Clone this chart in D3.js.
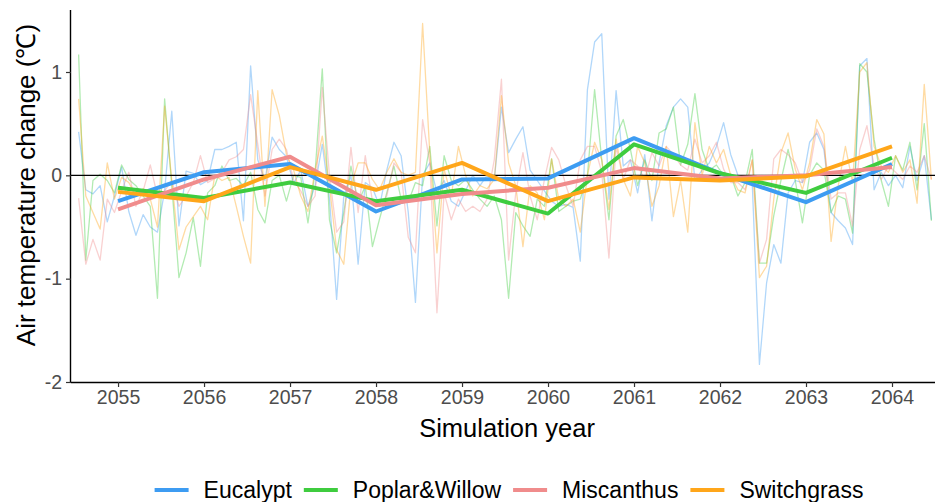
<!DOCTYPE html>
<html>
<head>
<meta charset="utf-8">
<script src="https://cdn.jsdelivr.net/npm/d3@7"></script>
<style>
  html, body { margin: 0; padding: 0; background: #fff; }
  svg { display: block; font-family: "Liberation Sans", Arial, sans-serif; }
</style>
</head>
<body>
<svg id="chart" width="935" height="502"></svg>
<script>
// Simulation years (annual means are plotted at these positions)
const years = [2055, 2056, 2057, 2058, 2059, 2060, 2061, 2062, 2063, 2064];
const yTicks = [-2, -1, 0, 1];
const seriesNames = ["Eucalypt", "Poplar&Willow", "Miscanthus", "Switchgrass"];
const seriesColors = ["#3d9cf2", "#3fcc3f", "#f08c8c", "#ffa61a"];

// Annual mean air temperature change (°C)
const eucalyptAnnual    = [-0.25, 0.03, 0.11, -0.35, -0.04, -0.03, 0.36, 0.02, -0.26, 0.11];
const poplarAnnual      = [-0.12, -0.22, -0.07, -0.25, -0.14, -0.37, 0.30, 0.02, -0.17, 0.17];
const miscanthusAnnual  = [-0.33, -0.04, 0.18, -0.29, -0.18, -0.12, 0.07, -0.03, 0.00, 0.08];
const switchgrassAnnual = [-0.16, -0.25, 0.08, -0.14, 0.12, -0.25, -0.02, -0.05, -0.01, 0.28];

// Monthly air temperature change (°C), January 2055 .. December 2064
const eucalyptMonthly = [
  0.42, -0.14, -0.18, -0.10, -0.45, -0.20, 0.08, -0.35, -0.58, -0.38, -0.50, -0.55,
  -0.15, 0.62, -0.49, 0.04, 0.02, -0.09, -0.05, 0.25, 0.25, 0.28, 0.32, -0.44,
  1.06, 0.15, -0.05, 0.37, 0.25, 0.18, -0.08, 0.05, -0.30, -0.10, 0.30, -0.22,
  -1.20, -0.20, 0.00, -0.86, -0.07, -0.12, -0.30, 0.05, 0.32, 0.19, -0.36, -1.23,
  0.00, 0.12, -0.17, -0.05, -0.25, -0.30, -0.15, 0.00, -0.10, 0.00, -0.05, 0.66,
  0.22, 0.35, 0.47, 0.05, -0.05, -0.15, -0.25, -0.30, -0.28, -0.31, -0.83, 0.83,
  1.29, 1.37, -0.23, 0.82, 0.09, 0.15, -0.17, 0.20, -0.44, 0.12, 0.48, 0.66,
  0.74, 0.66, -0.05, 0.05, 0.12, 0.28, 0.51, 0.20, 0.00, -0.05, -0.08, -1.83,
  -1.04, -0.67, -0.85, -0.17, -0.05, -0.07, 0.32, 0.41, 0.25, -0.36, -0.44, -0.51,
  -0.67, 1.06, 1.13, -0.14, 0.03, -0.10, 0.00, -0.12, 0.28, -0.05, 0.19, -0.43
];
const poplarMonthly = [
  1.17, -0.82, -0.05, 0.01, -0.05, -0.17, 0.10, -0.04, -0.10, -0.20, -0.30, -1.19,
  0.74, -0.10, -0.99, -0.75, -0.41, -0.88, -0.17, -0.10, 0.09, -0.05, -0.03, -0.10,
  0.03, -0.33, -0.46, -0.05, 0.00, -0.25, 0.00, -0.02, -0.46, 0.03, 1.03, -0.43,
  -0.75, -0.36, 0.09, -0.27, -0.10, -0.69, -0.42, -0.17, 0.09, -0.23, -0.26, -0.07,
  -0.10, 0.28, -0.49, 0.19, -0.05, -0.10, -0.04, -0.14, -0.23, -0.30, -0.20, -0.43,
  -1.19, -0.36, -0.49, -0.59, -0.23, -0.30, 0.16, -0.35, -0.30, -0.25, -0.23, 0.00,
  0.83, 0.15, -0.43, 0.38, 0.54, 0.25, -0.10, 0.15, -0.05, 0.41, 0.45, 0.66,
  0.10, 0.30, 0.79, 0.25, 0.05, 0.10, 0.00, 0.00, -0.20, -0.07, 0.25, -0.85,
  -0.85, -0.39, -0.05, 0.25, -0.05, -0.46, 0.00, 0.12, 0.05, -0.36, -0.20, -0.23,
  -0.56, 1.08, 1.00, 0.35, -0.05, -0.30, 0.19, 0.05, 0.32, -0.14, 0.50, -0.44
];
const miscanthusMonthly = [
  -0.22, -0.86, -0.62, -0.82, -0.23, -0.36, -0.15, 0.03, -0.30, -0.15, 0.10, -0.20,
  -0.15, -0.05, -0.30, -0.20, -0.07, 0.19, -0.07, -0.03, 0.03, 0.15, 0.18, 0.25,
  0.78, 0.30, -0.20, 0.25, 0.35, 0.25, -0.05, -0.15, -0.30, -0.20, 0.85, 0.00,
  -0.55, -0.45, 0.27, -0.36, 0.19, -0.25, -0.30, -0.20, 0.12, 0.03, -0.60, -0.75,
  0.54, 0.12, -1.33, -0.17, -0.43, -0.23, -0.35, -0.30, -0.35, -0.23, 0.15, 0.93,
  -0.82, -0.17, 0.22, -0.20, -0.43, -0.04, 0.27, 0.15, -0.10, -0.30, 0.15, 0.28,
  0.28, 0.03, -0.80, 0.28, -0.04, 0.15, 0.09, -0.04, 0.22, 0.09, 0.28, 0.20,
  0.10, 0.05, 0.35, 0.12, 0.19, 0.32, 0.06, -0.07, -0.07, -0.14, 0.15, -0.85,
  -0.62, 0.16, 0.25, 0.20, 0.12, -0.07, 0.05, 0.45, 0.28, -0.23, -0.17, -0.17,
  -0.49, 0.25, 0.48, 0.09, -0.04, 0.09, 0.03, -0.04, 0.09, 0.03, 0.19, -0.04
];
const switchgrassMonthly = [
  0.74, -0.20, -0.36, -0.52, 0.12, -0.23, -0.02, -0.07, -0.20, -0.13, -0.23, -0.50,
  0.67, -0.05, -0.72, -0.50, -0.40, -0.30, -0.43, 0.00, -0.05, -0.02, -0.30, -0.59,
  -0.85, 0.82, -0.30, 0.83, 0.58, 0.20, 0.05, -0.20, -0.35, 0.05, 0.38, -0.10,
  -0.72, -0.86, -0.10, 0.12, 0.12, -0.04, -0.14, 0.03, 0.16, 0.03, 0.00, 0.03,
  1.47, 0.22, -0.75, 0.06, -0.20, 0.28, 0.00, -0.20, -0.10, -0.13, -0.04, 0.77,
  0.12, -0.10, -0.69, -0.10, -0.17, -0.43, 0.16, -0.23, -0.30, -0.23, -0.55, 0.00,
  0.32, 0.15, -0.33, 0.35, -0.04, -0.20, 0.28, 0.12, -0.30, -0.10, 0.28, -0.40,
  -0.05, -0.55, 0.51, 0.00, 0.28, 0.12, 0.25, 0.00, -0.14, -0.17, 0.15, -0.99,
  -0.88, -0.23, 0.22, 0.41, 0.06, -0.14, 0.12, 0.54, 0.40, -0.64, -0.10, 0.28,
  -0.07, 1.00, 1.09, 0.28, 0.09, 0.03, 0.19, 0.03, 0.15, -0.27, 0.88, -0.04
];

const annualSeries = [eucalyptAnnual, poplarAnnual, miscanthusAnnual, switchgrassAnnual];
const monthlySeries = [eucalyptMonthly, poplarMonthly, miscanthusMonthly, switchgrassMonthly];

const plot = { left: 71, right: 935, top: 10, bottom: 382 };

const svg = d3.select("#chart");

const x = d3.scaleLinear().domain([2054.453, 2064.5]).range([plot.left, plot.right]);
const y = d3.scaleLinear().domain([-2, 1.6]).range([plot.bottom, plot.top]);

// decimal time of each monthly value: mid-month of its year, centred on the year
const monthTime = (i) => years[0] - 0.5 + (i + 0.5) / 12;

svg.append("defs").append("clipPath").attr("id", "panel")
  .append("rect")
  .attr("x", plot.left).attr("y", plot.top)
  .attr("width", plot.right - plot.left).attr("height", plot.bottom - plot.top);

const panel = svg.append("g").attr("clip-path", "url(#panel)");

const monthLine = d3.line().x((d, i) => x(monthTime(i))).y(d => y(d));
const yearLine = d3.line().x((d, i) => x(years[i])).y(d => y(d));

// thin monthly lines
monthlySeries.forEach((vals, k) => {
  panel.append("path")
    .datum(vals)
    .attr("d", monthLine)
    .attr("fill", "none")
    .attr("stroke", seriesColors[k])
    .attr("stroke-opacity", 0.4)
    .attr("stroke-width", 1.3)
    .attr("stroke-linejoin", "round");
});

// zero reference line
panel.append("line")
  .attr("x1", plot.left).attr("x2", plot.right)
  .attr("y1", y(0)).attr("y2", y(0))
  .attr("stroke", "#000").attr("stroke-width", 1.3);

// thick annual mean lines
annualSeries.forEach((vals, k) => {
  panel.append("path")
    .datum(vals)
    .attr("d", yearLine)
    .attr("fill", "none")
    .attr("stroke", seriesColors[k])
    .attr("stroke-width", 4)
    .attr("stroke-linejoin", "round");
});

// axes
const xAxis = d3.axisBottom(x).tickValues(years).tickFormat(d3.format("d")).tickSize(5).tickPadding(3);
const yAxis = d3.axisLeft(y).tickValues(yTicks).tickFormat(d => d).tickSize(5).tickPadding(4);

const gx = svg.append("g").attr("transform", `translate(0,${plot.bottom})`).call(xAxis);
const gy = svg.append("g").attr("transform", `translate(${plot.left},0)`).call(yAxis);

[gx, gy].forEach(g => {
  g.select(".domain").attr("stroke", "#000").attr("stroke-width", 1.4);
  g.selectAll(".tick line").attr("stroke", "#333").attr("stroke-width", 1.2);
  g.selectAll(".tick text")
    .attr("fill", "#4d4d4d")
    .style("font-size", "19.5px")
    .style("font-family", "'Liberation Sans', Arial, sans-serif");
});
gx.select(".domain").attr("d", `M${plot.left},0.5H${plot.right}`);
gy.select(".domain").attr("d", `M-0.5,${plot.top}V${plot.bottom}`);

// axis titles
svg.append("text")
  .attr("x", 507).attr("y", 437)
  .attr("text-anchor", "middle")
  .style("font-size", "25.5px")
  .attr("fill", "#000")
  .text("Simulation year");

svg.append("text")
  .attr("transform", "translate(35,185) rotate(-90)")
  .attr("text-anchor", "middle")
  .style("font-size", "26px")
  .attr("fill", "#000")
  .text("Air temperature change (℃)");

// legend
const legend = svg.append("g");
const keyW = 34, keyGap = 15, itemGap = 12, legendY = 490;
let cursor = 0;
seriesNames.forEach((name, k) => {
  const g = legend.append("g");
  g.append("line")
    .attr("x1", 0).attr("x2", keyW)
    .attr("y1", 0).attr("y2", 0)
    .attr("stroke", seriesColors[k]).attr("stroke-width", 4);
  const t = g.append("text")
    .attr("x", keyW + keyGap).attr("y", 8)
    .style("font-size", "23px")
    .attr("fill", "#000")
    .text(name);
  const w = keyW + keyGap + t.node().getComputedTextLength();
  g.attr("transform", `translate(${cursor},0)`);
  cursor += w + itemGap;
});
const legendWidth = cursor - itemGap;
legend.attr("transform", `translate(${509 - legendWidth / 2},${legendY})`);
</script>
</body>
</html>
